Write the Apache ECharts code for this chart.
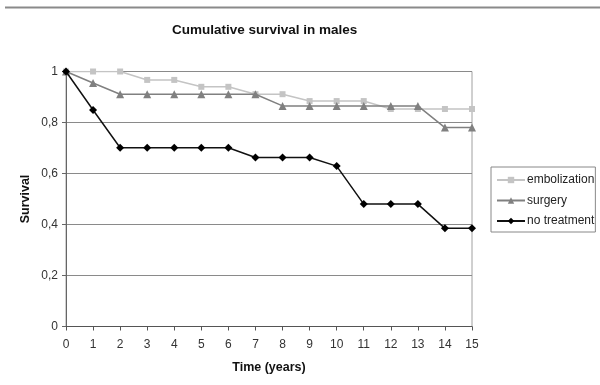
<!DOCTYPE html>
<html>
<head>
<meta charset="utf-8">
<title>Cumulative survival in males</title>
<script src="https://cdn.jsdelivr.net/npm/echarts@6/dist/echarts.min.js"></script>
<style>
  html, body { margin: 0; padding: 0; background: #fff; }
  #chart { width: 600px; height: 385px; }
</style>
</head>
<body>
<div id="chart"></div>
<script>
// Follow-up time in years
const years = [0, 1, 2, 3, 4, 5, 6, 7, 8, 9, 10, 11, 12, 13, 14, 15];

// Cumulative survival per treatment group
const embolization = [1, 1, 1, 0.967, 0.967, 0.94, 0.94, 0.911, 0.911, 0.884, 0.884, 0.884, 0.853, 0.853, 0.853, 0.853];
const surgery      = [1, 0.955, 0.911, 0.911, 0.911, 0.911, 0.911, 0.911, 0.865, 0.865, 0.865, 0.865, 0.865, 0.865, 0.78, 0.78];
const noTreatment  = [1, 0.849, 0.701, 0.701, 0.701, 0.701, 0.701, 0.663, 0.663, 0.663, 0.629, 0.48, 0.48, 0.48, 0.385, 0.385];

const seriesNames = ['embolization', 'surgery', 'no treatment'];
const yTicks = [0, 0.2, 0.4, 0.6, 0.8, 1];

const FONT = '"Liberation Sans", Arial, sans-serif';

function pairs(values) {
  return years.map((t, i) => [t, values[i]]);
}

const chart = echarts.init(document.getElementById('chart'), null, { renderer: 'canvas' });

chart.setOption({
  animation: false,
  backgroundColor: '#fff',
  textStyle: { fontFamily: FONT },
  title: {
    text: 'Cumulative survival in males',
    left: 172,
    top: 23,
    padding: 0,
    textStyle: { fontFamily: FONT, fontSize: 13.5, fontWeight: 'bold', color: '#111' }
  },
  graphic: [{
    type: 'line',
    shape: { x1: 5, y1: 7.5, x2: 600, y2: 7.5 },
    style: { stroke: '#8a8a8a', lineWidth: 2 }
  }],
  legend: {
    orient: 'vertical',
    left: 491,
    top: 167,
    padding: [7, 1, 5, 5],
    itemGap: 8.5,
    itemWidth: 28,
    itemHeight: 8,
    borderColor: '#888',
    borderWidth: 1,
    borderRadius: 0,
    backgroundColor: '#fff',
    data: seriesNames,
    textStyle: { fontFamily: FONT, fontSize: 12, color: '#222', padding: [0, 0, 0, -3] }
  },
  grid: {
    left: 66,
    right: 128,
    top: 71.5,
    bottom: 58.5,
    show: true,
    borderColor: '#a0a0a0',
    borderWidth: 1,
    containLabel: false
  },
  xAxis: {
    type: 'value',
    min: 0,
    max: 15,
    interval: 1,
    name: 'Time (years)',
    nameLocation: 'middle',
    nameGap: 35,
    nameTextStyle: { fontFamily: FONT, fontSize: 12.5, fontWeight: 'bold', color: '#111' },
    axisLine: { show: true, onZero: false, lineStyle: { color: '#555', width: 1 } },
    axisTick: { show: true, length: 4, lineStyle: { color: '#555' } },
    axisLabel: { margin: 12, fontFamily: FONT, fontSize: 12, color: '#333' },
    splitLine: { show: false }
  },
  yAxis: {
    type: 'value',
    min: 0,
    max: 1,
    interval: 0.2,
    name: 'Survival',
    nameLocation: 'middle',
    nameGap: 34,
    nameMoveOverlap: false,
    nameRotate: 90,
    nameTextStyle: { fontFamily: FONT, fontSize: 12.5, fontWeight: 'bold', color: '#111' },
    axisLine: { show: true, lineStyle: { color: '#666', width: 1 } },
    axisTick: { show: true, length: 4, lineStyle: { color: '#666' } },
    axisLabel: {
      margin: 8,
      fontFamily: FONT,
      fontSize: 12,
      color: '#333',
      formatter: v => yTicks.indexOf(+v.toFixed(1)) >= 0 ? String(+v.toFixed(1)).replace('.', ',') : ''
    },
    splitLine: { show: true, lineStyle: { color: '#8a8a8a', width: 1 } }
  },
  series: [
    {
      name: seriesNames[0],
      type: 'line',
      data: pairs(embolization),
      symbol: 'rect',
      symbolSize: 6,
      lineStyle: { color: '#c4c4c4', width: 1.5 },
      itemStyle: { color: '#c4c4c4' },
      z: 2
    },
    {
      name: seriesNames[1],
      type: 'line',
      data: pairs(surgery),
      symbol: 'triangle',
      symbolSize: 8,
      lineStyle: { color: '#808080', width: 1.5 },
      itemStyle: { color: '#808080' },
      z: 3
    },
    {
      name: seriesNames[2],
      type: 'line',
      data: pairs(noTreatment),
      symbol: 'diamond',
      symbolSize: 8,
      lineStyle: { color: '#111', width: 1.5 },
      itemStyle: { color: '#000' },
      z: 4
    }
  ]
});
</script>
</body>
</html>
